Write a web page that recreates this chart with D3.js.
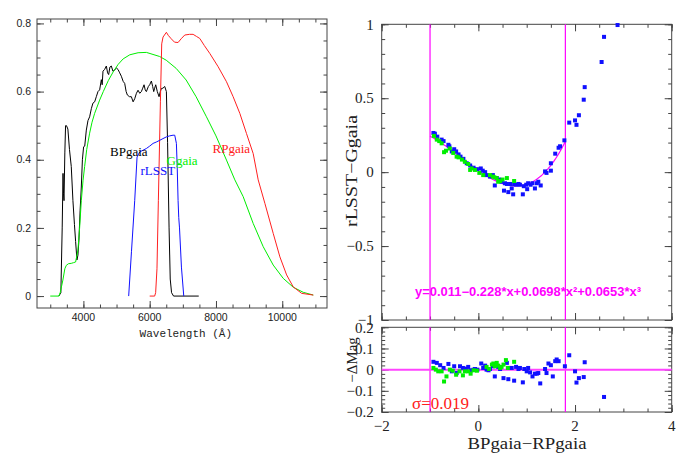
<!DOCTYPE html>
<html>
<head>
<meta charset="utf-8">
<script src="https://cdn.jsdelivr.net/npm/d3@7"></script>
<style>
  html, body { margin: 0; padding: 0; background: #fff; }
  svg { display: block; }
</style>
</head>
<body>
<svg id="chart" width="690" height="458"></svg>
<script>
// ---------------- DATA ----------------
// Left panel: filter transmission curves (wavelength in Å, throughput)
const bpWave = [3260,3320,3360,3385,3400,3415,3440,3462,3490,3532,3580,3634,3684,3730,3765,3805,3835,3865,3900,3937,3970,4006,4040,4088,4138,4188,4240,4287,4340,4390,4440,4490,4541,4566,4591,4640,4692,4730,4762,4800,4843,4890,4944,4990,5044,5095,5145,5200,5246,5290,5326,5390,5447,5500,5548,5600,5648,5700,5749,5790,5830,5865,5900,5960,6000,6051,6090,6122,6150,6182,6230,6283,6320,6353,6400,6454,6504,6540,6585,6620,6660,6720,7480];
const bpThru = [0,0.01,0.2,0.36,0.30,0.28,0.42,0.50,0.50,0.49,0.43,0.38,0.28,0.21,0.16,0.106,0.12,0.164,0.25,0.32,0.40,0.438,0.44,0.487,0.515,0.526,0.55,0.566,0.57,0.585,0.60,0.605,0.635,0.62,0.66,0.665,0.675,0.655,0.65,0.672,0.675,0.66,0.663,0.67,0.665,0.655,0.645,0.63,0.624,0.60,0.59,0.585,0.585,0.57,0.579,0.595,0.604,0.595,0.60,0.61,0.62,0.605,0.60,0.615,0.62,0.631,0.615,0.60,0.61,0.62,0.60,0.585,0.60,0.609,0.61,0.615,0.60,0.45,0.20,0.05,0.01,0,0];

const gWave = [3000,3260,3300,3381,3440,3483,3550,3634,3700,3765,3835,3886,3937,3990,4037,4100,4188,4260,4339,4490,4600,4750,4900,5050,5200,5400,5650,5900,6100,6300,6500,6800,7100,7400,7713,8000,8317,8569,8820,9123,9425,9727,10029,10331,10634,10936];
const gThru = [0,0,0.01,0.047,0.08,0.09,0.095,0.096,0.098,0.10,0.135,0.20,0.28,0.34,0.38,0.43,0.478,0.51,0.536,0.575,0.600,0.632,0.658,0.680,0.696,0.708,0.714,0.715,0.709,0.703,0.692,0.668,0.634,0.585,0.526,0.47,0.399,0.341,0.292,0.213,0.145,0.091,0.052,0.026,0.011,0.003];

const rpWave = [6000,6150,6180,6220,6262,6323,6363,6403,6504,6560,6650,6750,6857,6950,7058,7200,7310,7410,7511,7650,7813,8065,8317,8518,8720,8921,9123,9274,9476,9727,9929,10132,10331,10585,10936];
const rpThru = [0,0,0.01,0.08,0.28,0.57,0.74,0.76,0.774,0.765,0.755,0.745,0.744,0.755,0.766,0.768,0.768,0.762,0.756,0.735,0.712,0.673,0.629,0.585,0.536,0.477,0.418,0.341,0.272,0.184,0.115,0.062,0.027,0.008,0.003];

const rWave = [5366,5450,5548,5619,5699,5800,5900,6000,6102,6200,6303,6400,6504,6600,6705,6756,6806,6830,6857,6877,6900,6958,7028];
const rThru = [0,0.13,0.28,0.408,0.423,0.428,0.433,0.44,0.448,0.452,0.457,0.462,0.467,0.47,0.472,0.472,0.448,0.38,0.28,0.23,0.20,0.085,0];

const curveLabels = ["BPgaia","Ggaia","rLSST","RPgaia"];

// Right upper panel: rLSST - Ggaia vs BPgaia - RPgaia
const blueX = [-0.93,-0.90,-0.85,-0.76,-0.72,-0.62,-0.60,-0.55,-0.50,-0.46,-0.41,-0.37,-0.31,-0.24,-0.17,-0.10,-0.03,0.05,0.09,0.14,0.17,0.24,0.30,0.34,0.38,0.43,0.48,0.53,0.55,0.59,0.62,0.66,0.69,0.72,0.74,0.78,0.83,0.86,0.92,0.94,0.99,1.01,1.03,1.08,1.12,1.17,1.21,1.24,1.29,1.38,1.41,1.50,1.50,1.59,1.66,1.69,1.78,1.88,2.00,2.03,2.08,2.18,2.20,2.55,2.60,2.88];
const blueY = [0.265,0.26,0.24,0.22,0.21,0.185,0.175,0.14,0.155,0.14,0.12,0.105,0.09,0.06,0.045,0.03,0.02,0.025,0.01,0.0,-0.02,-0.03,-0.02,-0.09,-0.04,-0.05,-0.065,-0.125,-0.075,-0.08,-0.135,-0.08,-0.11,-0.15,-0.08,-0.085,-0.08,-0.085,-0.15,-0.095,-0.085,-0.115,-0.075,-0.085,-0.075,-0.11,-0.075,-0.065,-0.09,0.005,-0.005,0.06,0.01,0.125,0.165,0.175,0.215,0.335,0.35,0.32,0.385,0.49,0.575,0.745,0.915,0.995];
const greenX = [-0.92,-0.86,-0.81,-0.76,-0.71,-0.67,-0.59,-0.52,-0.45,-0.41,-0.34,-0.28,-0.21,-0.17,-0.14,-0.07,0.02,0.10,0.24,0.30,0.33,0.38,0.41,0.45,0.50,0.59,0.74];
const greenY = [0.245,0.22,0.21,0.195,0.135,0.145,0.16,0.13,0.105,0.10,0.085,0.07,0.055,0.015,0.025,0.015,-0.005,-0.02,-0.02,-0.03,-0.035,-0.04,-0.065,-0.06,-0.05,-0.04,-0.06];

// Fit polynomial shown on the chart and its validity range
const fitCoef = [0.011, -0.228, 0.0698, 0.0653];
const fitRange = [-1.0, 1.8];
const fitText = "y=0.011\u22120.228*x+0.0698*x\u00B2+0.0653*x\u00B3";

// Right lower panel: residuals
const resBlueX = [-0.93,-0.86,-0.79,-0.72,-0.62,-0.55,-0.50,-0.45,-0.38,-0.32,-0.26,-0.21,-0.16,-0.10,-0.07,-0.02,0.06,0.10,0.14,0.17,0.21,0.24,0.30,0.34,0.41,0.45,0.52,0.59,0.62,0.64,0.69,0.74,0.78,0.83,0.86,0.92,0.95,1.00,1.03,1.07,1.12,1.17,1.21,1.24,1.28,1.38,1.41,1.45,1.50,1.54,1.59,1.62,1.66,1.79,1.88,2.00,2.03,2.08,2.18,2.20,2.60];
const resBlueY = [0.037,0.032,0.021,0.008,0.027,-0.008,0.016,-0.016,0.016,0.008,0.005,0.013,-0.003,0.0,0.003,0.0,0.029,0.008,0.019,0.0,-0.003,0.003,0.016,-0.032,0.013,0.003,-0.040,0.032,-0.045,0.008,0.008,-0.052,0.013,0.003,0.008,-0.060,0.003,-0.008,0.008,-0.013,-0.032,-0.019,-0.019,-0.016,-0.065,0.003,-0.016,0.029,0.021,-0.032,0.040,0.048,0.040,0.016,0.068,-0.008,-0.061,-0.040,-0.035,0.035,-0.129];
const resGreenX = [-0.93,-0.88,-0.83,-0.76,-0.71,-0.66,-0.59,-0.53,-0.46,-0.39,-0.32,-0.28,-0.21,-0.16,-0.10,-0.03,0.17,0.22,0.28,0.31,0.34,0.38,0.41,0.45,0.48,0.52,0.57,0.61,0.74];
const resGreenY = [0.008,0.0,-0.008,-0.008,-0.056,-0.032,0.0,-0.005,-0.024,-0.008,-0.027,-0.008,-0.008,-0.019,-0.003,-0.005,0.013,0.003,0.024,0.029,0.016,0.032,0.019,0.008,0.013,0.024,0.045,0.008,0.037];
const sigmaText = "\u03C3=0.019";

// Tick labels
const lxMajor = [4000,6000,8000,10000];
const lxLabels = ["4000","6000","8000","10000"];
const lyMajor = [0,0.2,0.4,0.6,0.8];
const lyLabels = ["0","0.2","0.4","0.6","0.8"];
const rxMajor = [-2,0,2,4];
const rxLabels = ["\u22122","0","2","4"];
const ruMajor = [-1,-0.5,0,0.5,1];
const ruLabels = ["\u22121","\u22120.5","0","0.5","1"];
const rlMajor = [-0.2,-0.1,0,0.1,0.2];
const rlLabels = ["\u22120.2","\u22120.1","0","0.1","0.2"];

// ---------------- DRAW ----------------
const svg = d3.select("#chart");
const C = { black:"#000", green:"#00ee00", red:"#ff2020", blue:"#1010ff", mag:"#ff00ff", axis:"#444" };
const serif = "'Liberation Serif', 'Times New Roman', serif";
const sans = "'Liberation Sans', Arial, sans-serif";
const mono = "'Liberation Mono', 'DejaVu Sans Mono', monospace";
const labelLayer = svg.append("g").attr("class", "tick-labels");

function frame(g, x, y, o) {
  const [x0,x1] = x.range(), [y1,y0] = y.range();
  const mk = (axisFn, scale, vals, size, tr) => {
    const ax = g.append("g").attr("transform", tr)
      .call(axisFn(scale).tickValues(vals).tickSize(size).tickFormat(""));
    ax.select(".domain").remove();
    ax.selectAll("text").remove();
    ax.selectAll("line").attr("stroke", C.axis);
  };
  mk(d3.axisBottom, x, o.xMinor, -3.5, `translate(0,${y1})`);
  mk(d3.axisBottom, x, o.xMajor, -7, `translate(0,${y1})`);
  mk(d3.axisTop, x, o.xMinor, -3.5, `translate(0,${y0})`);
  mk(d3.axisTop, x, o.xMajor, -7, `translate(0,${y0})`);
  mk(d3.axisLeft, y, o.yMinor, -3.5, `translate(${x0},0)`);
  mk(d3.axisLeft, y, o.yMajor, -7, `translate(${x0},0)`);
  mk(d3.axisRight, y, o.yMinor, -3.5, `translate(${x1},0)`);
  mk(d3.axisRight, y, o.yMajor, -7, `translate(${x1},0)`);
  g.append("rect").attr("x", x0).attr("y", y0).attr("width", x1-x0).attr("height", y1-y0)
    .attr("fill", "none").attr("stroke", C.axis).attr("stroke-width", 1);
  if (o.xLabels) {
    o.xMajor.forEach((d, i) => labelLayer.append("text")
      .attr("x", x(d)).attr("y", y1 + o.xOff).attr("text-anchor", "middle")
      .attr("font-family", o.font).attr("font-size", o.fs).attr("fill", "#222")
      .text(o.xLabels[i]));
  }
  o.yMajor.forEach((d, i) => labelLayer.append("text")
    .attr("x", x0 - o.yOff).attr("y", y(d)).attr("dy", "0.35em").attr("text-anchor", "end")
    .attr("font-family", o.font).attr("font-size", o.fs).attr("fill", "#222")
    .text(o.yLabels[i]));
}

function rangeStep(a, b, s) { const out=[]; for (let v=a; v<=b+1e-9; v+=s) out.push(+v.toFixed(6)); return out; }

// ---------- Left panel ----------
const lx = d3.scaleLinear().domain([2600, 11350]).range([37, 327]);
const ly = d3.scaleLinear().domain([-0.035, 0.813]).range([308, 19]);
const gL = svg.append("g");
frame(gL, lx, ly, {
  xMajor: lxMajor, xMinor: rangeStep(3000, 11000, 500), xLabels: lxLabels, xOff: 13,
  yMajor: lyMajor, yMinor: rangeStep(0, 0.8, 0.05), yLabels: lyLabels, yOff: 6,
  font: sans, fs: 10.5
});

const lineL = (W, T) => d3.line().x((d,i) => lx(W[i])).y((d,i) => ly(T[i]))(W);
const curves = [
  {W: bpWave, T: bpThru, c: C.black},
  {W: gWave, T: gThru, c: C.green},
  {W: rpWave, T: rpThru, c: C.red},
  {W: rWave, T: rThru, c: C.blue}
];
curves.forEach(k => gL.append("path").attr("d", lineL(k.W, k.T)).attr("fill","none")
  .attr("stroke", k.c).attr("stroke-width", 1).attr("stroke-linejoin","round"));

const labelPos = [
  {c: C.black, x: 110, y: 156},
  {c: C.green, x: 166.5, y: 164.5},
  {c: C.blue,  x: 140.5, y: 174.5},
  {c: C.red,   x: 212.5, y: 152.5}
];
labelPos.forEach((p, i) => gL.append("text").attr("x", p.x).attr("y", p.y).text(curveLabels[i])
  .attr("fill", p.c).attr("font-family", serif).attr("font-size", 13));

gL.append("text").attr("x", 185.8).attr("y", 337).attr("text-anchor","middle")
  .attr("font-family", mono).attr("font-size", 11).attr("fill","#222")
  .text("Wavelength (\u00C5)");

// ---------- Right panels ----------
const rx = d3.scaleLinear().domain([-2, 4]).range([381.7, 671.7]);
const ru = d3.scaleLinear().domain([-1, 1]).range([320, 24.3]);
const rl = d3.scaleLinear().domain([-0.2, 0.2]).range([412, 327.3]);

const gU = svg.append("g");
frame(gU, rx, ru, {
  xMajor: rxMajor, xMinor: rangeStep(-2, 4, 0.5), xLabels: null,
  yMajor: ruMajor, yMinor: rangeStep(-1, 1, 0.1), yLabels: ruLabels, yOff: 8,
  font: serif, fs: 15
});
const gLo = svg.append("g");
frame(gLo, rx, rl, {
  xMajor: rxMajor, xMinor: rangeStep(-2, 4, 0.5), xLabels: rxLabels, xOff: 18.5,
  yMajor: rlMajor, yMinor: rangeStep(-0.2, 0.2, 0.02), yLabels: rlLabels, yOff: 8,
  font: serif, fs: 15
});

// fit equation text (under lines)
gU.append("text").attr("x", 415).attr("y", 296).text(fitText)
  .attr("fill", C.mag).attr("font-family", sans)
  .attr("font-size", 12).attr("font-weight", "bold")
  .attr("textLength", 226).attr("lengthAdjust", "spacingAndGlyphs");

// vertical range lines
fitRange.forEach(v => {
  gU.append("line").attr("x1", rx(v)).attr("x2", rx(v)).attr("y1", ru(1)).attr("y2", ru(-1))
    .attr("stroke", C.mag).attr("stroke-width", 1.2);
  gLo.append("line").attr("x1", rx(v)).attr("x2", rx(v)).attr("y1", rl(0.2)).attr("y2", rl(-0.2))
    .attr("stroke", C.mag).attr("stroke-width", 1.2);
});
// horizontal zero line in residual panel
gLo.append("line").attr("x1", rx(-2)).attr("x2", rx(4)).attr("y1", rl(0)).attr("y2", rl(0))
  .attr("stroke", "#ff44ff").attr("stroke-width", 2);

// fit curve
const poly = x => fitCoef.reduce((s, c, i) => s + c * Math.pow(x, i), 0);
const fitXs = d3.range(fitRange[0], fitRange[1] + 1e-9, 0.02);
gU.append("path").attr("d", d3.line().x(d => rx(d)).y(d => ru(poly(d)))(fitXs))
  .attr("fill","none").attr("stroke", C.mag).attr("stroke-width", 1.2);

// points
const sq = 4;
function pts(g, xs, ys, ysc, color) {
  g.append("g").selectAll("rect").data(xs).enter().append("rect")
    .attr("x", (d,i) => rx(xs[i]) - sq/2).attr("y", (d,i) => ysc(ys[i]) - sq/2)
    .attr("width", sq).attr("height", sq).attr("fill", color);
}
pts(gU, blueX, blueY, ru, C.blue);
pts(gU, greenX, greenY, ru, C.green);
pts(gLo, resBlueX, resBlueY, rl, C.blue);
pts(gLo, resGreenX, resGreenY, rl, C.green);

// sigma
gLo.append("text").attr("x", 412).attr("y", 409).text(sigmaText)
  .attr("fill", C.red).attr("font-family", serif).attr("font-size", 17);

// axis labels
svg.append("text").attr("transform", "translate(357,171) rotate(-90)").attr("text-anchor","middle")
  .attr("font-family", serif).attr("font-size", 16).attr("fill","#222")
  .attr("textLength", 112).attr("lengthAdjust","spacingAndGlyphs").text("rLSST\u2212Ggaia");
svg.append("text").attr("transform", "translate(357,360) rotate(-90)").attr("text-anchor","middle")
  .attr("font-family", serif).attr("font-size", 15).attr("fill","#222").text("\u2212\u0394Mag");
svg.append("text").attr("x", 527).attr("y", 449).attr("text-anchor","middle")
  .attr("font-family", serif).attr("font-size", 17).attr("fill","#222")
  .attr("textLength", 119).attr("lengthAdjust","spacingAndGlyphs").text("BPgaia\u2212RPgaia");

labelLayer.raise();
</script>
</body>
</html>
